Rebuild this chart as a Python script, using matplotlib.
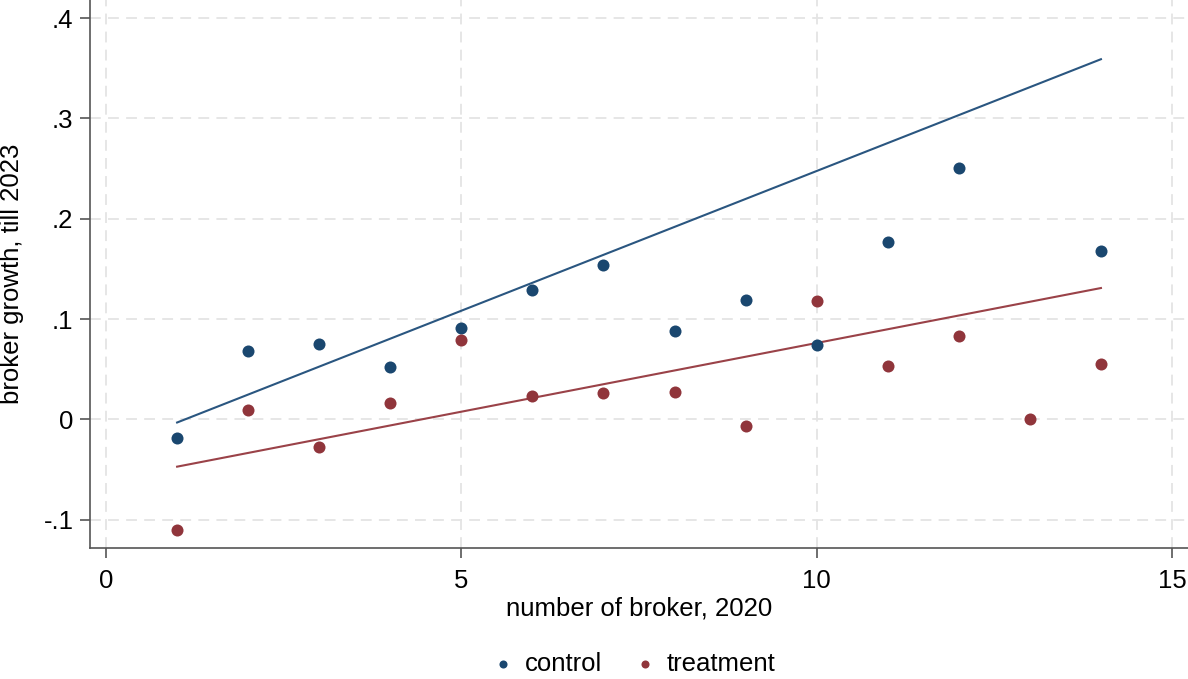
import matplotlib.pyplot as plt

plt.rcParams['font.family'] = ['Liberation Sans', 'DejaVu Sans']

# broker growth by number of brokers in 2020
ctrl_x = [1, 2, 3, 4, 5, 6, 7, 8, 9, 10, 11, 12, 14]
ctrl_y = [-0.018, 0.068, 0.075, 0.052, 0.091, 0.129, 0.154, 0.088, 0.119,
          0.074, 0.177, 0.251, 0.168]
treat_x = [1, 2, 3, 4, 5, 6, 7, 8, 9, 10, 11, 12, 13, 14]
treat_y = [-0.110, 0.009, -0.027, 0.016, 0.079, 0.023, 0.026, 0.027, -0.006,
           0.118, 0.053, 0.083, 0.000, 0.055]

# linear fit endpoints
fit_x = [1, 14]
ctrl_fit = [-0.003, 0.359]
treat_fit = [-0.047, 0.131]

navy = '#1a476f'
maroon = '#90353b'
grey = '#555555'
fs = 18.5

fig = plt.figure(figsize=(11.88, 6.79), dpi=100)
ax = fig.add_axes([0.0758, 0.193, 0.9242, 0.807])

ax.plot(fit_x, ctrl_fit, color='#2a5680', lw=1.5, zorder=2)
ax.plot(fit_x, treat_fit, color='#9a4248', lw=1.5, zorder=2)
ax.scatter(ctrl_x, ctrl_y, s=75, color=navy, label='control', zorder=3, linewidths=0)
ax.scatter(treat_x, treat_y, s=75, color=maroon, label='treatment', zorder=3, linewidths=0)

ax.set_xlim(-0.225, 15.225)
ax.set_ylim(-0.128, 0.418)
ax.set_xticks([0, 5, 10, 15])
ax.set_yticks([-0.1, 0, 0.1, 0.2, 0.3, 0.4])
ax.set_yticklabels(['-.1', '0', '.1', '.2', '.3', '.4'])

ax.grid(True, color='#e4e4e4', ls=(0, (6, 4)), lw=1.3, zorder=0)
ax.set_axisbelow(True)
for s in ['top', 'right']:
    ax.spines[s].set_visible(False)
for s in ['left', 'bottom']:
    ax.spines[s].set_color(grey)
    ax.spines[s].set_linewidth(1.2)
ax.tick_params(colors=grey, labelcolor='black', labelsize=fs, length=7, width=1.2)
ax.tick_params(axis='x', pad=8)
ax.tick_params(axis='y', pad=5)

ax.set_xlabel('number of broker, 2020', fontsize=fs, va='top')
ax.xaxis.set_label_coords(0.5, -0.088)
ax.set_ylabel('broker growth, till 2023', fontsize=fs)
ax.yaxis.set_label_coords(-0.060, 0.5)

fig.legend(loc='center', bbox_to_anchor=(0.5305, 0.022), ncol=2, frameon=False,
           fontsize=fs, markerscale=0.67, handlelength=1.4, handletextpad=0.12,
           columnspacing=1.0, borderpad=0)

fig.savefig('out.png')
